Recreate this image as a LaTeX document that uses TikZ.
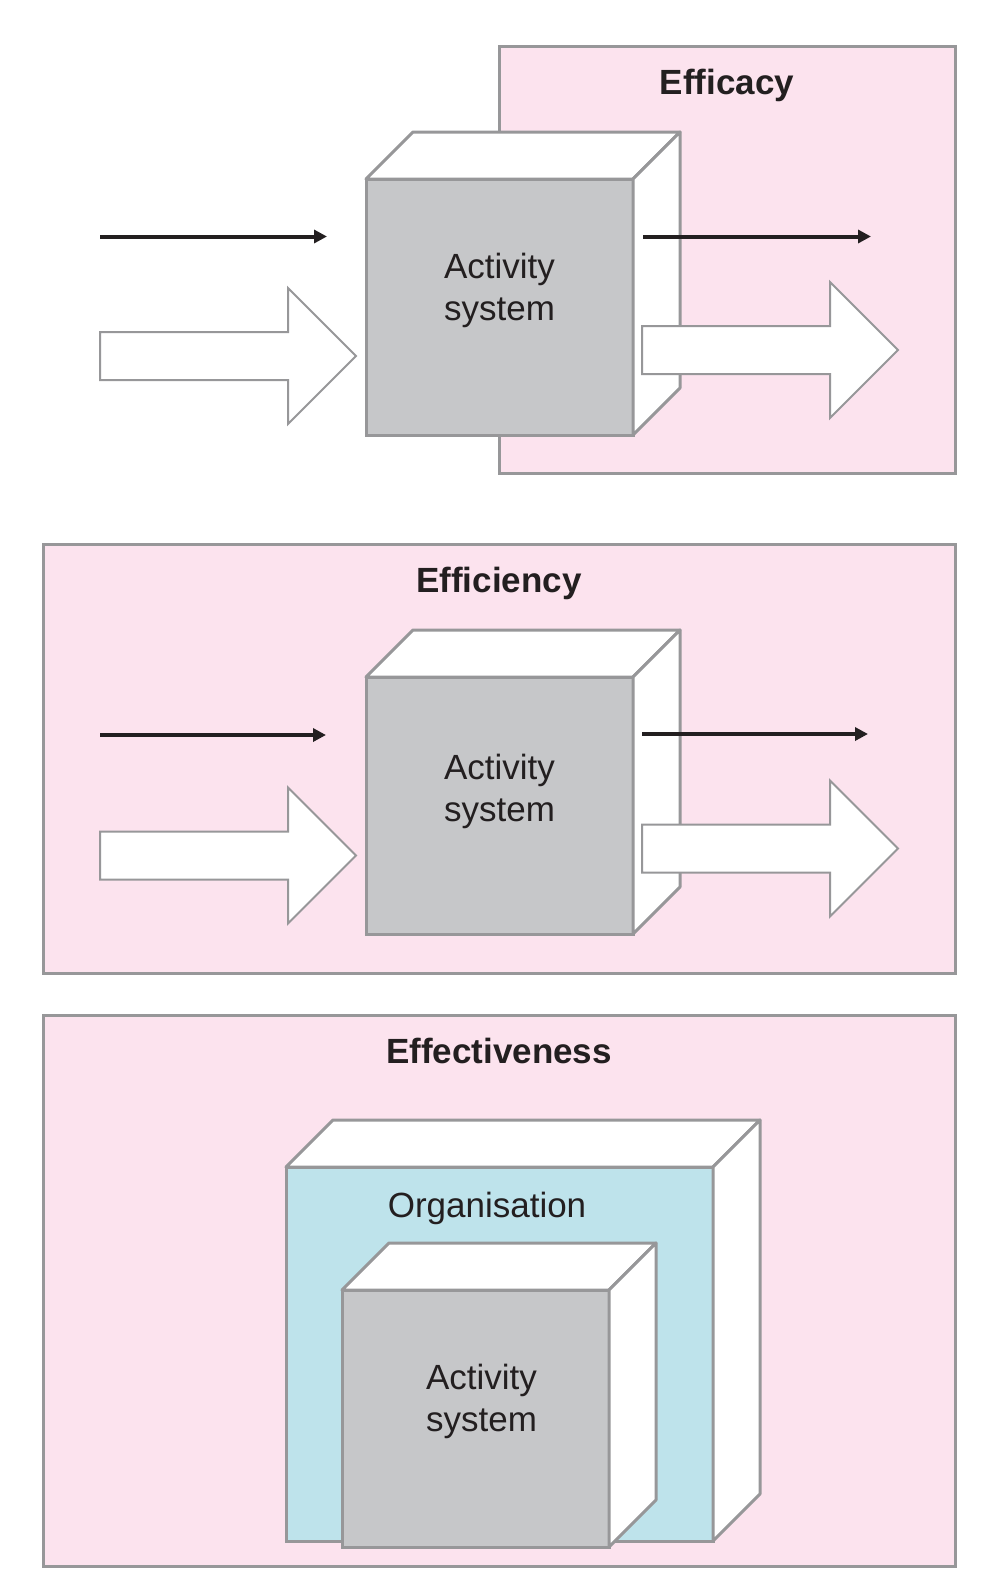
\documentclass[tikz,border=0pt]{standalone}
\usepackage{fontspec}
\setmainfont{Liberation Sans}
\usetikzlibrary{positioning,shapes.arrows,arrows.meta}

\definecolor{panelpink}{HTML}{FCE3EE}
\definecolor{facegrey}{HTML}{C6C7C9}
\definecolor{edgegrey}{HTML}{979799}
\definecolor{orgblue}{HTML}{BEE3EB}
\definecolor{inkdark}{HTML}{231F20}

\tikzset{
	panel/.style={rectangle,draw=edgegrey,line width=3pt,fill=panelpink,
		inner sep=0pt,outer sep=0pt},
	paneltitle/.style={font=\fontsize{35}{42}\selectfont\bfseries,text=inkdark,inner sep=0pt},
	cubefront/.style={rectangle,draw=edgegrey,line width=3pt,inner sep=0pt,outer sep=0pt},
	cubeside/.style={draw=edgegrey,line width=3pt,fill=white,line join=round},
	cubetext/.style={font=\fontsize{35}{42}\selectfont,text=inkdark,align=center,inner sep=0pt},
	flow/.style={draw=inkdark,line width=4pt,-{Triangle[length=13pt,width=13pt]}},
	bigflow/.style={single arrow,draw=edgegrey,line width=2pt,fill=white,
		minimum height=256pt,inner xsep=0pt,inner ysep=23pt,
		single arrow head extend=44pt,single arrow tip angle=90,
		outer sep=0pt,anchor=tail}
}

% front face as a node, top and side faces drawn from its corners
\newcommand{\drawcube}[5]{%
	\node[cubefront,fill=#5,minimum width=#3pt,minimum height=#4pt] (#1) at (#2) {};
	\draw[cubeside] (#1.north west) -- ++(47,-47) -- ++(#3,0) -- (#1.north east) -- cycle;
	\draw[cubeside] (#1.north east) -- ++(47,-47) -- ++(0,#4) -- (#1.south east) -- cycle;
}

\begin{document}
\begin{tikzpicture}[x=1pt,y=-1pt]
\useasboundingbox (0,0) rectangle (998,1596);

% efficacy
\node[panel,minimum width=456pt,minimum height=427pt] (efficacy) at (727,259.5) {};
\node[paneltitle,below=23pt of efficacy.north] (efficacyTitle) {Efficacy};
\drawcube{act1}{499.5,307}{267}{256}{facegrey}
\node[cubetext] (act1Text) at ([yshift=17pt]act1.center) {Activity\\system};
\coordinate (in1) at (100,236.5);
\coordinate (in1End) at (327,236.5);
\coordinate (out1) at (643,236.5);
\coordinate (out1End) at (871,236.5);
\draw[flow] (in1) -- (in1End);
\draw[flow] (out1) -- (out1End);
\node[bigflow] (bigIn1) at (100,356) {};
\node[bigflow] (bigOut1) at (642,350) {};

% efficiency
\node[panel,minimum width=912pt,minimum height=429pt] (efficiency) at (499,758.5) {};
\node[paneltitle,below=23pt of efficiency.north] (efficiencyTitle) {Efficiency};
\drawcube{act2}{499.5,805.5}{267}{257}{facegrey}
\node[cubetext] (act2Text) at ([yshift=14pt]act2.center) {Activity\\system};
\coordinate (in2) at (100,735);
\coordinate (in2End) at (326,735);
\coordinate (out2) at (642,734);
\coordinate (out2End) at (868,734);
\draw[flow] (in2) -- (in2End);
\draw[flow] (out2) -- (out2End);
\node[bigflow] (bigIn2) at (100,855.5) {};
\node[bigflow] (bigOut2) at (642,848.5) {};

% effectiveness
\node[panel,minimum width=912pt,minimum height=551pt] (effectiveness) at (499,1290.5) {};
\node[paneltitle,below=23pt of effectiveness.north] (effectivenessTitle) {Effectiveness};
\drawcube{org}{499.5,1354}{427}{374}{orgblue}
\node[cubetext,anchor=base] (orgText) at (487,1217) {Organisation};
\drawcube{act3}{475.5,1418.5}{267}{257}{facegrey}
\node[cubetext] (act3Text) at ([xshift=6pt,yshift=17pt]act3.center) {Activity\\system};
\end{tikzpicture}
\end{document}
